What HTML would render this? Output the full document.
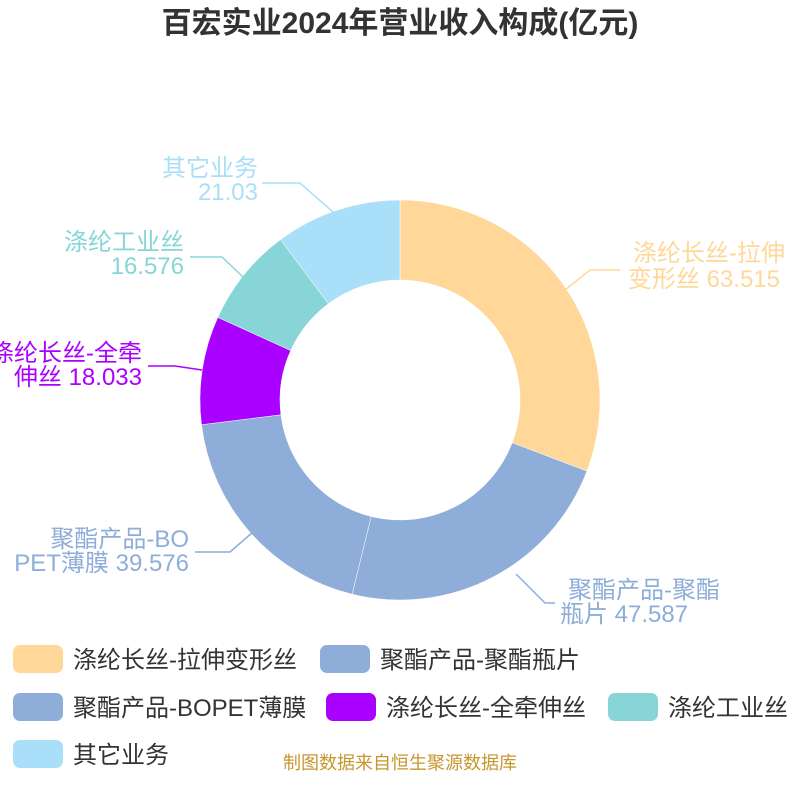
<!DOCTYPE html>
<html><head><meta charset="utf-8"><style>
body{margin:0;background:#fff}
svg text{font-family:"Liberation Sans","Noto Sans CJK SC",sans-serif}
</style></head><body>
<svg width="800" height="800" viewBox="0 0 800 800" xmlns="http://www.w3.org/2000/svg">
<text x="400" y="33" text-anchor="middle" font-size="30" font-weight="bold" fill="#333">百宏实业2024年营业收入构成(亿元)</text>
<g stroke="#fff" stroke-width="0.5">
<path d="M400,200 A200,200 0 0 1 586.9,471.1 L512.2,442.7 A120,120 0 0 0 400,280 Z" fill="#FFD899"/>
<path d="M586.9,471.1 A200,200 0 0 1 352.1,594.2 L371.2,516.5 A120,120 0 0 0 512.2,442.7 Z" fill="#8EADD9"/>
<path d="M352.1,594.2 A200,200 0 0 1 201.5,424.7 L280.9,414.8 A120,120 0 0 0 371.2,516.5 Z" fill="#8EADD9"/>
<path d="M201.5,424.7 A200,200 0 0 1 217.8,317.4 L290.7,350.5 A120,120 0 0 0 280.9,414.8 Z" fill="#AA00FF"/>
<path d="M217.8,317.4 A200,200 0 0 1 280.5,239.6 L328.3,303.8 A120,120 0 0 0 290.7,350.5 Z" fill="#88D5D8"/>
<path d="M280.5,239.6 A200,200 0 0 1 400,200 L400,280 A120,120 0 0 0 328.3,303.8 Z" fill="#AADFF9"/>
</g>
<g fill="none" stroke-width="1.5">
<polyline points="565,290 590,270 620,270" stroke="#FFD899"/>
<polyline points="516,574 545,603 555,603" stroke="#8EADD9"/>
<polyline points="253,532 230,552 195,552" stroke="#8EADD9"/>
<polyline points="202,370 175,366 148,366" stroke="#AA00FF"/>
<polyline points="243,277 222,257 190,257" stroke="#88D5D8"/>
<polyline points="333,212 300,183 262,183" stroke="#AADFF9"/>
</g>
<g font-size="24">
<text x="785" y="261" text-anchor="end" fill="#FFD899">涤纶长丝-拉伸</text>
<text x="780" y="287" text-anchor="end" fill="#FFD899">变形丝 63.515</text>
<text x="568" y="598" fill="#8EADD9">聚酯产品-聚酯</text>
<text x="560" y="622" fill="#8EADD9">瓶片 47.587</text>
<text x="189" y="547" text-anchor="end" fill="#8EADD9">聚酯产品-BO</text>
<text x="189" y="571" text-anchor="end" fill="#8EADD9">PET薄膜 39.576</text>
<text x="142" y="361" text-anchor="end" fill="#AA00FF">涤纶长丝-全牵</text>
<text x="142" y="385" text-anchor="end" fill="#AA00FF">伸丝 18.033</text>
<text x="184" y="250" text-anchor="end" fill="#88D5D8">涤纶工业丝</text>
<text x="184" y="274" text-anchor="end" fill="#88D5D8">16.576</text>
<text x="258" y="176" text-anchor="end" fill="#AADFF9">其它业务</text>
<text x="258" y="200" text-anchor="end" fill="#AADFF9">21.03</text>
</g>
<g font-size="24" fill="#333">
<rect x="13" y="645" width="50" height="28" rx="7" fill="#FFD899"/><text x="73" y="668">涤纶长丝-拉伸变形丝</text>
<rect x="320" y="645" width="50" height="28" rx="7" fill="#8EADD9"/><text x="380" y="668">聚酯产品-聚酯瓶片</text>
<rect x="13" y="693" width="50" height="28" rx="7" fill="#8EADD9"/><text x="73" y="716">聚酯产品-BOPET薄膜</text>
<rect x="326" y="693" width="50" height="28" rx="7" fill="#AA00FF"/><text x="386" y="716">涤纶长丝-全牵伸丝</text>
<rect x="608" y="693" width="50" height="28" rx="7" fill="#88D5D8"/><text x="668" y="716">涤纶工业丝</text>
<rect x="13" y="740" width="50" height="28" rx="7" fill="#AADFF9"/><text x="73" y="763">其它业务</text>
</g>
<text x="400" y="769" text-anchor="middle" font-size="18" fill="#C8962E">制图数据来自恒生聚源数据库</text>
</svg>
</body></html>
